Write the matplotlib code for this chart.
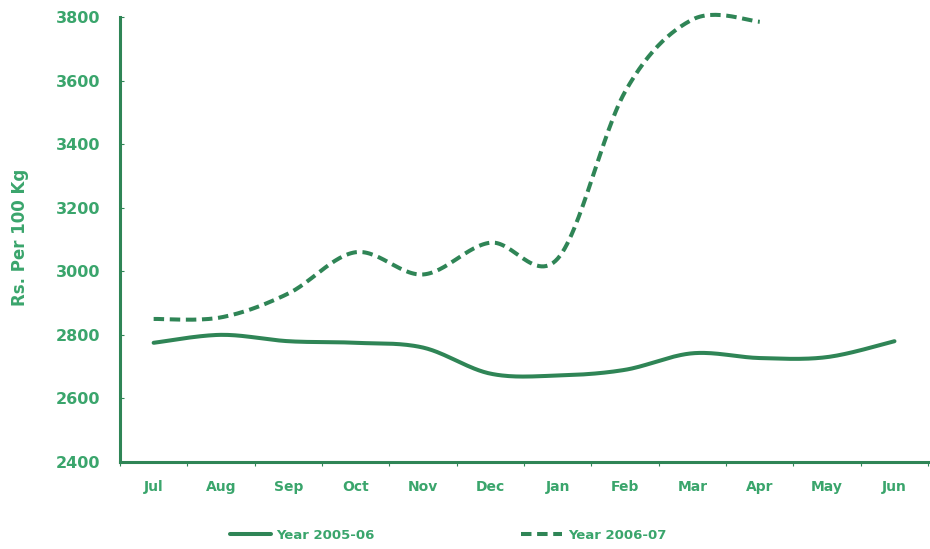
#Price per 100 Kg, monthly, two crop years
import matplotlib
matplotlib.use('Agg')
import matplotlib.pyplot as plt
import numpy as np

months = ['Jul', 'Aug', 'Sep', 'Oct', 'Nov', 'Dec', 'Jan', 'Feb', 'Mar', 'Apr', 'May', 'Jun']
year_0506 = [2775, 2800, 2780, 2775, 2760, 2678, 2672, 2690, 2742, 2727, 2730, 2780]
year_0607 = [2850, 2855, 2930, 3060, 2990, 3090, 3040, 3565, 3792, 3785]
yticks = [2400, 2600, 2800, 3000, 3200, 3400, 3600, 3800]

line_col = '#2f8556'
text_col = '#3aa56c'
fam = 'DejaVu Sans'


def smooth(y, n=30):
    #Catmull-Rom style bezier through the points (like a spreadsheet smoothed line)
    y = np.asarray(y, dtype=float)
    x = np.arange(len(y), dtype=float)
    px = np.concatenate([[x[0]], x, [x[-1]]])
    py = np.concatenate([[y[0]], y, [y[-1]]])
    xs, ys = [], []
    t = np.linspace(0, 1, n)
    for i in range(1, len(px) - 2):
        p0 = np.array([px[i], py[i]])
        p3 = np.array([px[i + 1], py[i + 1]])
        p1 = p0 + (np.array([px[i + 1], py[i + 1]]) - np.array([px[i - 1], py[i - 1]])) / 6.
        p2 = p3 - (np.array([px[i + 2], py[i + 2]]) - np.array([px[i], py[i]])) / 6.
        b = ((1 - t) ** 3)[:, None] * p0 + (3 * (1 - t) ** 2 * t)[:, None] * p1 \
            + (3 * (1 - t) * t ** 2)[:, None] * p2 + (t ** 3)[:, None] * p3
        xs.append(b[:, 0])
        ys.append(b[:, 1])
    return np.concatenate(xs), np.concatenate(ys)


fig = plt.figure(figsize=(9.3, 5.49), dpi=100)
ax = fig.add_axes([0.129, 0.1585, 0.869, 0.8105])

x1, y1 = smooth(year_0506)
x2, y2 = smooth(year_0607)
ax.plot(x1, y1, color=line_col, lw=2.9, solid_capstyle='round', label='Year 2005-06',
        zorder=3, clip_on=False)
ax.plot(x2, y2, color=line_col, lw=2.9, linestyle=(0, (2.6, 1.4)), label='Year 2006-07',
        zorder=3, clip_on=False)

ax.set_xlim(-0.5, 11.5)
ax.set_ylim(2400, 3800)

for s in ['top', 'right']:
    ax.spines[s].set_visible(False)
for s in ['left', 'bottom']:
    ax.spines[s].set_color(line_col)
    ax.spines[s].set_linewidth(2.2)

ax.set_yticks(yticks)
ax.set_yticklabels([str(v) for v in yticks], fontsize=11.5, fontweight='bold',
                   color=text_col, family=fam)
ax.tick_params(axis='y', direction='in', length=3, color=line_col, pad=14)

#boundaries get the tick marks, centres get the labels
ax.set_xticks(np.arange(-0.5, 12, 1))
ax.set_xticklabels([])
ax.set_xticks(np.arange(len(months)), minor=True)
ax.set_xticklabels(months, minor=True, fontsize=10, fontweight='bold',
                   color=text_col, family=fam)
ax.tick_params(axis='x', which='major', direction='out', length=3, color=line_col)
ax.tick_params(axis='x', which='minor', length=0, pad=13)

ax.set_ylabel('Rs. Per 100 Kg', fontsize=12, fontweight='bold', color=text_col, family=fam)
ax.yaxis.set_label_coords(-0.112, 0.505)

leg = fig.legend(loc='center', bbox_to_anchor=(0.482, 0.0255), ncol=2, frameon=False,
                 handlelength=3.1, columnspacing=11.1, handletextpad=0.45,
                 prop={'family': fam, 'weight': 'bold', 'size': 9.5})
for t in leg.get_texts():
    t.set_color(text_col)

fig.savefig('out.png', dpi=100)
